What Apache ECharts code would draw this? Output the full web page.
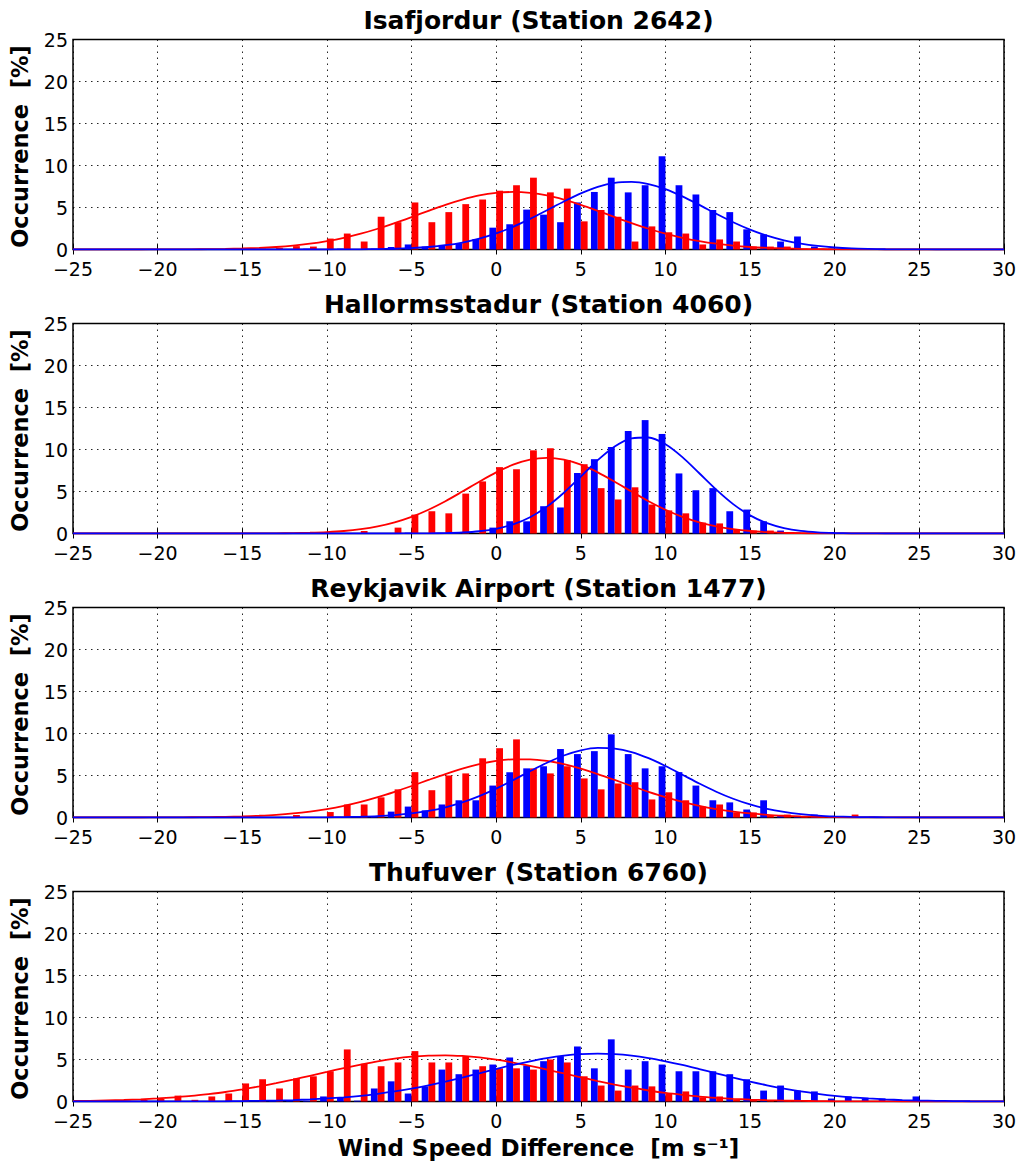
<!DOCTYPE html>
<html>
<head>
<meta charset="utf-8">
<script src="https://cdn.jsdelivr.net/npm/echarts@6/dist/echarts.min.js"></script>
<style>
html,body{margin:0;padding:0;background:#fff;}
#chart{width:1022px;height:1162px;}
</style>
</head>
<body>
<div id="chart"></div>
<script>
// Bin centres / curve sample positions (m/s)
const xs = [-25,-24,-23,-22,-21,-20,-19,-18,-17,-16,-15,-14,-13,-12,-11,-10,-9,-8,-7,-6,-5,-4,-3,-2,-1,0,1,2,3,4,5,6,7,8,9,10,11,12,13,14,15,16,17,18,19,20,21,22,23,24,25,26,27,28,29,30];

const panelTitles = ['Isafjordur (Station 2642)','Hallormsstadur (Station 4060)','Reykjavik Airport (Station 1477)','Thufuver (Station 6760)'];
const yAxisTitle = 'Occurrence  [%]';
const xAxisTitle = 'Wind Speed Difference  [m s\u207B\u00B9]';

// Histogram occurrences [%] (red = first set, blue = second set)
const red1 = [0,0,0,0,0,0,0,0,0,0,0, 0.1,0.2,0.4,0.35,1.3,1.9,0.95,3.9,3.25,5.6,3.25,4.45,5.4,5.95,7.0,7.65,8.55,6.8,7.25,3.35,4.7,3.9,0.95,2.75,2.05,1.9,0.6,1.2,0.95,0.35,0.35,0.35,0.1,0.1, 0,0,0,0,0,0,0,0,0,0,0];
const blue1 = [0,0,0,0,0,0,0,0,0,0,0,0,0,0, 0.1,0,0.1,0,0.1,0.3,0.6,0.35,0.55,0.75,1.25,2.6,3.0,4.75,4.15,3.25,5.6,6.85,8.55,6.8,7.65,11.1,7.65,6.55,4.7,4.45,2.4,1.8,0.95,1.55,0.35,0.1, 0,0,0,0,0,0,0,0,0,0];
const red2 = [0,0,0,0,0,0,0,0,0,0,0,0,0,0,0,0,0, 0.3,0,0.7,2.25,2.65,2.4,4.75,6.2,7.9,7.65,9.9,10.15,8.75,8.25,5.4,4.05,5.5,3.45,2.75,2.4,1.3,1.2,0.5,0.35,0.35,0.1, 0,0,0,0,0,0,0,0,0,0,0,0,0];
const blue2 = [0,0,0,0,0,0,0,0,0,0,0,0,0,0,0,0,0,0,0,0, 0.1,0,0,0,0,0.7,1.45,1.45,3.25,3.1,7.2,8.85,10.3,12.2,13.5,11.85,7.15,5.15,5.4,2.65,2.85,1.45,0.35,0.1, 0,0,0,0,0,0,0,0,0,0,0,0];
const red3 = [0,0,0,0,0,0,0,0,0,0,0,0,0, 0.3,0,0.65,1.55,1.55,2.4,3.35,5.4,3.25,5.0,5.25,7.05,8.25,9.3,5.85,5.25,6.1,4.65,3.35,4.05,4.2,2.15,3.0,2.05,1.3,1.55,0.6,0.6,0.25,0.35,0.1,0.05,0,0.35,0.1, 0,0,0,0,0,0,0,0];
const blue3 = [0,0,0,0,0,0,0,0,0,0,0,0,0,0,0,0,0,0, 0.1,0.7,1.3,0.85,1.55,2.05,2.05,3.8,5.4,5.85,6.1,8.15,7.55,7.9,9.9,7.55,5.85,6.1,5.4,3.8,2.05,1.8,0.95,2.05,0.25,0.1,0.35,0.05, 0,0,0,0,0,0,0,0,0,0];
const red4 = [0,0,0, 0.1,0.2,0.3,0.7,0.2,0.6,0.95,2.15,2.65,1.55,2.75,3.0,3.6,6.2,4.5,4.2,4.65,6.0,4.65,4.65,5.4,4.2,3.95,3.95,3.8,5.0,4.65,3.0,1.9,1.3,1.9,1.8,0.95,1.2,0.5,0.6,0.25,0.25,0.1,0.1, 0,0,0,0,0,0,0,0,0,0,0,0,0];
const blue4 = [0,0,0,0,0,0,0,0,0,0,0,0, 0.1,0.1,0.1,0.6,0.45,0.1,1.55,2.4,0.95,1.8,3.8,3.25,3.8,4.4,5.25,4.3,4.8,5.4,6.55,3.95,7.4,3.8,4.8,4.4,3.6,3.6,3.6,3.25,2.65,1.3,1.9,1.3,1.2,0.35,0.6,0.35,0.35,0.1,0.6, 0,0,0,0,0];

// Fitted curves at each xs position [%]
const fitRed1 = [0,0,0,0,0, 0.01,0.01,0.02,0.04,0.07, 0.12,0.19,0.30,0.46,0.69, 1.00,1.39,1.88,2.47,3.14, 3.86,4.60,5.31,5.93,6.43, 6.74,6.85,6.74,6.43,5.93, 5.31,4.60,3.86,3.14,2.47, 1.88,1.39,1.00,0.69,0.46, 0.30,0.19,0.12,0.07,0.04, 0.02,0.01,0.01,0,0, 0,0,0,0,0, 0];
const fitBlue1 = [0,0,0,0,0, 0,0,0,0,0, 0,0,0,0,0, 0, 0.01,0.02,0.05,0.09, 0.17,0.30,0.51,0.83,1.29, 1.91,2.70,3.64,4.67,5.72, 6.69,7.46,7.93,8.04,7.78, 7.18,6.32,5.31,4.25,3.25, 2.37,1.64,1.09,0.69,0.42, 0.24,0.13,0.07,0.03,0.02, 0.01,0,0,0,0,0];
const fitRed2 = [0,0,0,0,0, 0,0,0,0,0, 0, 0.01,0.02,0.04,0.09, 0.17,0.30,0.52,0.85,1.33, 1.98,2.83,3.84,4.99,6.17, 7.28,8.19,8.79,9.0,8.79, 8.19,7.28,6.17,4.99,3.84, 2.83,1.98,1.33,0.85,0.52, 0.30,0.17,0.09,0.04,0.02, 0.01,0,0,0,0, 0,0,0,0,0, 0];
const fitBlue2 = [0,0,0,0,0, 0,0,0,0,0, 0,0,0,0,0, 0,0,0,0,0, 0.01,0.02,0.05,0.12,0.27, 0.56,1.09,1.94,3.20,4.85, 6.78,8.73,10.36,11.33,11.43, 10.62,9.09,7.17,5.22,3.50, 2.16,1.23,0.65,0.31,0.14, 0.06,0.02,0.01, 0,0,0,0,0,0,0,0];
const fitRed3 = [0,0,0,0,0, 0.01,0.01,0.03,0.05,0.08, 0.13,0.21,0.32,0.48,0.71, 1.01,1.39,1.86,2.42,3.06, 3.75,4.47,5.17,5.81,6.34, 6.73,6.92,6.92,6.73,6.34, 5.81,5.17,4.47,3.75,3.06, 2.42,1.86,1.39,1.01,0.71, 0.48,0.32,0.21,0.13,0.08, 0.05,0.03,0.01,0.01,0, 0,0,0,0,0, 0];
const fitBlue3 = [0,0,0,0,0, 0,0,0,0,0, 0,0,0,0, 0.01, 0.02,0.05,0.09,0.16,0.29, 0.49,0.79,1.22,1.80,2.55, 3.44,4.45,5.51,6.52,7.38, 7.99,8.28,8.21,7.79,7.06, 6.13,5.09,4.04,3.07,2.23, 1.55,1.03,0.66,0.40,0.23, 0.13,0.07,0.04,0.02,0.01, 0,0,0,0,0,0];
const fitRed4 = [0.06,0.08,0.13,0.18,0.26, 0.36,0.50,0.66,0.88,1.13, 1.44,1.79,2.18,2.61,3.06, 3.52,3.98,4.40,4.79,5.10, 5.33,5.47,5.50,5.42,5.25, 4.98,4.64,4.24,3.80,3.34, 2.88,2.43,2.02,1.64,1.31, 1.02,0.79,0.59,0.44,0.32, 0.23,0.16,0.11,0.07,0.05, 0.03,0.02,0.01,0.01,0, 0,0,0,0,0, 0];
const fitBlue4 = [0,0,0,0,0, 0, 0.01,0.01,0.02,0.03, 0.05,0.08,0.11,0.17,0.25, 0.36,0.50,0.68,0.92,1.20, 1.54,1.93,2.37,2.85,3.36, 3.86,4.35,4.79,5.17,5.46, 5.64,5.70,5.64,5.46,5.17, 4.79,4.35,3.86,3.36,2.85, 2.37,1.93,1.54,1.20,0.92, 0.68,0.50,0.36,0.25,0.17, 0.11,0.08,0.05,0.03,0.02, 0.01];

const panels = [
  {red: red1, blue: blue1, fitRed: fitRed1, fitBlue: fitBlue1},
  {red: red2, blue: blue2, fitRed: fitRed2, fitBlue: fitBlue2},
  {red: red3, blue: blue3, fitRed: fitRed3, fitBlue: fitBlue3},
  {red: red4, blue: blue4, fitRed: fitRed4, fitBlue: fitBlue4}
];

const FONT = 'DejaVu Sans';
const RED = '#ff0000', BLUE = '#0000ff';
const GL = 73, GW = 931, GH = 210, GT0 = 39.5, GSTEP = 284;

const grids = [], xAxes = [], yAxes = [], series = [], graphics = [];
const minusFmt = v => String(v).replace('-', '\u2212');
const tickStyle = {show: true, inside: true, length: 5, lineStyle: {color: '#000', width: 1}};
const gridLine = {show: true, lineStyle: {color: '#000', width: 1, type: [1.5, 4.5], opacity: 0.85}};

panels.forEach((p, i) => {
  const top = GT0 + GSTEP * i;
  grids.push({left: GL, top: top, width: GW, height: GH, show: true, borderColor: '#000', borderWidth: 1.5, backgroundColor: 'rgba(0,0,0,0)'});
  xAxes.push({type: 'value', gridIndex: i, min: -25, max: 30, interval: 5, position: 'bottom',
    axisLine: {show: false}, axisTick: tickStyle,
    axisLabel: {show: true, color: '#000', fontSize: 19, lineHeight: 17, fontFamily: FONT, margin: 11, formatter: minusFmt},
    splitLine: gridLine});
  xAxes.push({type: 'value', gridIndex: i, min: -25, max: 30, interval: 5, position: 'top',
    axisLine: {show: false}, axisTick: tickStyle, axisLabel: {show: false}, splitLine: {show: false}});
  yAxes.push({type: 'value', gridIndex: i, min: 0, max: 25, interval: 5, position: 'left',
    axisLine: {show: false}, axisTick: tickStyle,
    axisLabel: {show: true, color: '#000', fontSize: 19, lineHeight: 17, fontFamily: FONT, margin: 5},
    splitLine: gridLine});
  yAxes.push({type: 'value', gridIndex: i, min: 0, max: 25, interval: 5, position: 'right',
    axisLine: {show: false}, axisTick: tickStyle, axisLabel: {show: false}, splitLine: {show: false}});

  const xi = 2 * i, yi = 2 * i;
  series.push({type: 'bar', name: 'blue' + i, xAxisIndex: xi, yAxisIndex: yi,
    data: xs.map((x, k) => [x, p.blue[k]]).filter(d => d[1] > 0),
    barWidth: 6.8, barGap: '0%', itemStyle: {color: BLUE}, z: 2, silent: true});
  series.push({type: 'bar', name: 'red' + i, xAxisIndex: xi, yAxisIndex: yi,
    data: xs.map((x, k) => [x, p.red[k]]).filter(d => d[1] > 0),
    barWidth: 6.8, barGap: '0%', itemStyle: {color: RED}, z: 2, silent: true});
  series.push({type: 'line', xAxisIndex: xi, yAxisIndex: yi,
    data: xs.map((x, k) => [x, p.fitRed[k]]), showSymbol: false, smooth: 0.3,
    lineStyle: {color: RED, width: 1.8}, z: 3, silent: true});
  series.push({type: 'line', xAxisIndex: xi, yAxisIndex: yi,
    data: xs.map((x, k) => [x, p.fitBlue[k]]), showSymbol: false, smooth: 0.3,
    lineStyle: {color: BLUE, width: 1.8}, z: 4, silent: true});

  graphics.push({type: 'text', x: GL + GW / 2, y: top - 19,
    style: {text: panelTitles[i], fill: '#000', font: 'bold 25px "DejaVu Sans"', textAlign: 'center', textVerticalAlign: 'middle'}});
  graphics.push({type: 'text', x: 20, y: top + GH / 2 + 2, rotation: Math.PI / 2,
    style: {text: yAxisTitle, fill: '#000', font: 'bold 22.5px "DejaVu Sans"', textAlign: 'center', textVerticalAlign: 'middle'}});
});

graphics.push({type: 'text', x: GL + GW / 2, y: 1148,
  style: {text: xAxisTitle, fill: '#000', font: 'bold 23px "DejaVu Sans"', textAlign: 'center', textVerticalAlign: 'middle'}});

const chart = echarts.init(document.getElementById('chart'), null, {renderer: 'svg'});
chart.setOption({
  animation: false,
  backgroundColor: '#fff',
  textStyle: {fontFamily: FONT},
  grid: grids,
  xAxis: xAxes,
  yAxis: yAxes,
  series: series,
  graphic: graphics
});
</script>
</body>
</html>
